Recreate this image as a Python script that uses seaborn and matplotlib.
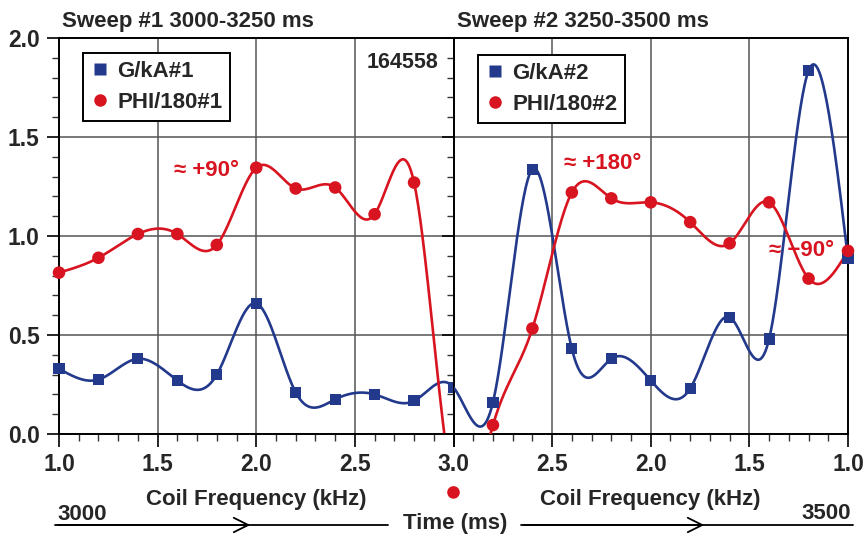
import numpy as np
import matplotlib
matplotlib.use("Agg")
import matplotlib.pyplot as plt
from matplotlib.lines import Line2D
from matplotlib.patches import FancyArrowPatch
from matplotlib.ticker import MultipleLocator, FixedLocator
import seaborn as sns

# ---- measured data, shot 164558 ----
freq_sweep1 = [1.0, 1.2, 1.4, 1.6, 1.8, 2.0, 2.2, 2.4, 2.6, 2.8, 3.0]
g_sweep1 = [0.33, 0.275, 0.38, 0.27, 0.30, 0.66, 0.21, 0.175, 0.20, 0.167, 0.235]
phi_sweep1 = [0.815, 0.89, 1.01, 1.01, 0.955, 1.345, 1.24, 1.245, 1.11, 1.27, -0.295]

freq_sweep2 = [3.0, 2.8, 2.6, 2.4, 2.2, 2.0, 1.8, 1.6, 1.4, 1.2, 1.0]
g_sweep2 = [0.235, 0.16, 1.337, 0.43, 0.38, 0.27, 0.23, 0.59, 0.48, 1.835, 0.885]
phi_sweep2 = [-0.295, 0.045, 0.533, 1.22, 1.19, 1.17, 1.07, 0.963, 1.17, 0.785, 0.925]

xticks1 = [1.0, 1.5, 2.0, 2.5, 3.0]
xticks2 = [2.5, 2.0, 1.5, 1.0]
yticks = [0.0, 0.5, 1.0, 1.5, 2.0]

BLUE = "#22398C"
RED = "#D7141F"
GRID = "#555555"

sns.set_style("ticks")
plt.rcParams["font.family"] = ["Liberation Sans", "DejaVu Sans"]
plt.rcParams["font.weight"] = "bold"


def natural_spline(x, y, num=1200):
    x = np.asarray(x, float)
    y = np.asarray(y, float)
    n = len(x)
    h = np.diff(x)
    A = np.zeros((n, n))
    r = np.zeros(n)
    A[0, 0] = A[-1, -1] = 1.0
    for i in range(1, n - 1):
        A[i, i - 1] = h[i - 1]
        A[i, i] = 2 * (h[i - 1] + h[i])
        A[i, i + 1] = h[i]
        r[i] = 6 * ((y[i + 1] - y[i]) / h[i] - (y[i] - y[i - 1]) / h[i - 1])
    M = np.linalg.solve(A, r)
    xs = np.linspace(x[0], x[-1], num)
    idx = np.clip(np.searchsorted(x, xs) - 1, 0, n - 2)
    x0, x1 = x[idx], x[idx + 1]
    hh = x1 - x0
    t0, t1 = xs - x0, x1 - xs
    ys = ((M[idx] * t1 ** 3 + M[idx + 1] * t0 ** 3) / (6 * hh)
          + (y[idx] / hh - M[idx] * hh / 6) * t1
          + (y[idx + 1] / hh - M[idx + 1] * hh / 6) * t0)
    return xs, ys


# both sweeps joined on one running coordinate (sweep 2 runs back down in frequency)
u_all = np.concatenate([np.array(freq_sweep1), 6.0 - np.array(freq_sweep2)[1:]])
g_all = np.concatenate([g_sweep1, g_sweep2[1:]])
phi_all = np.concatenate([phi_sweep1, phi_sweep2[1:]])

fig = plt.figure(figsize=(8.64, 5.37), dpi=100)
L, R, B, T = 59 / 864, 848 / 864, 1 - 434 / 537, 1 - 38 / 537
W = (R - L) / 2
ax1 = fig.add_axes([L, B, W, T - B])
ax2 = fig.add_axes([L + W, B, W, T - B])

for ax in (ax1, ax2):
    ax.set_ylim(0, 2.0)
    ax.yaxis.set_major_locator(FixedLocator(yticks))
    ax.yaxis.set_minor_locator(MultipleLocator(0.1))
    ax.xaxis.set_minor_locator(MultipleLocator(0.1))
    ax.grid(True, which="major", color=GRID, lw=1.1)
    for s in ax.spines.values():
        s.set_visible(True)
        s.set_linewidth(1.4)
        s.set_color("black")
    ax.tick_params(which="major", direction="out", length=9, width=1.2, pad=5,
                   labelsize=16.5, color="black")
    ax.tick_params(which="minor", direction="out", length=5, width=1.0, color="#333333")
    ax.set_axisbelow(True)

ax1.set_xlim(1.0, 3.0)
ax1.xaxis.set_major_locator(FixedLocator(xticks1))
ax2.set_xlim(3.0, 1.0)
ax2.xaxis.set_major_locator(FixedLocator([3.0] + xticks2))
ax2.set_xticklabels([""] + [f"{v:.1f}" for v in xticks2])
ax1.set_xticklabels([f"{v:.1f}" for v in xticks1])
ax1.set_yticklabels([f"{v:.1f}" for v in yticks])
ax2.tick_params(axis="y", labelleft=False)
for ax in (ax1, ax2):
    for lab in ax.get_xticklabels() + ax.get_yticklabels():
        lab.set_fontweight("bold")

# smooth curves through the points
for vals, col in ((g_all, BLUE), (phi_all, RED)):
    us, vs = natural_spline(u_all, vals)
    left = us <= 3.0
    right = us >= 3.0
    sns.lineplot(x=us[left], y=vs[left], ax=ax1, color=col, lw=1.9,
                 sort=False, estimator=None, zorder=3)
    sns.lineplot(x=6.0 - us[right], y=vs[right], ax=ax2, color=col, lw=1.9,
                 sort=False, estimator=None, zorder=3)

# markers
sns.scatterplot(x=freq_sweep1, y=g_sweep1, ax=ax1, marker="s", s=64, color=BLUE,
                edgecolor="none", zorder=4, clip_on=False)
sns.scatterplot(x=freq_sweep1, y=phi_sweep1, ax=ax1, marker="o", s=82, color=RED,
                edgecolor="none", zorder=5, clip_on=False)
sns.scatterplot(x=freq_sweep2[1:], y=g_sweep2[1:], ax=ax2, marker="s", s=64, color=BLUE,
                edgecolor="none", zorder=4, clip_on=False)
sns.scatterplot(x=freq_sweep2[1:], y=phi_sweep2[1:], ax=ax2, marker="o", s=82, color=RED,
                edgecolor="none", zorder=5, clip_on=False)


# legends
def legend_for(ax, n, anchor):
    handles = [Line2D([], [], ls="none", marker="s", ms=8, color=BLUE, mec="none"),
               Line2D([], [], ls="none", marker="o", ms=9, color=RED, mec="none")]
    leg = ax.legend(handles, [f"G/kA#{n}", f"PHI/180#{n}"], loc="upper left",
                    bbox_to_anchor=anchor, borderaxespad=0, fancybox=False,
                    framealpha=1, edgecolor="black", handlelength=0.8,
                    handletextpad=0.4, labelspacing=0.45, borderpad=0.35,
                    prop=dict(family=["Liberation Sans", "DejaVu Sans"],
                              weight="bold", size=16))
    leg.get_frame().set_linewidth(1.4)
    leg.set_zorder(6)


legend_for(ax1, 1, (0.061, 0.962))
legend_for(ax2, 2, (0.062, 0.957))

# titles and labels
ax1.set_title("Sweep #1 3000-3250 ms", loc="left", fontsize=16, fontweight="bold",
              pad=8, x=0.008)
ax2.set_title("Sweep #2 3250-3500 ms", loc="left", fontsize=16, fontweight="bold",
              pad=8, x=0.008)
for ax in (ax1, ax2):
    ax.set_xlabel("Coil Frequency (kHz)", fontsize=16, fontweight="bold", labelpad=9)
    ax.set_ylabel("")

ax1.text(2.74, 1.878, "164558", ha="center", va="center", fontsize=15.5,
         fontweight="bold", zorder=1)
ax1.text(1.75, 1.332, "\u2248 +90\u00b0", ha="center", va="center", color=RED,
         fontsize=16, fontweight="bold", zorder=1)
ax2.text(2.245, 1.367, "\u2248 +180\u00b0", ha="center", va="center", color=RED,
         fontsize=16, fontweight="bold", zorder=1)
ax2.text(1.234, 0.927, "\u2248 \u221290\u00b0", ha="center", va="center", color=RED,
         fontsize=16, fontweight="bold", zorder=1)

# time axis along the bottom
ya = 1 - 525 / 537
for x0, xm, x1 in ((55, 253, 388), (521, 707, 853)):
    fig.add_artist(Line2D([x0 / 864, x1 / 864], [ya, ya], color="black", lw=1.3))
    fig.patches.append(FancyArrowPatch(
        (x0 / 864, ya), (xm / 864, ya), transform=fig.transFigure,
        arrowstyle="->", mutation_scale=26, lw=1.3, color="black"))
fig.text(57 / 864, 1 - 520 / 537, "3000", ha="left", va="baseline", fontsize=16,
         fontweight="bold")
fig.text(851 / 864, 1 - 519 / 537, "3500", ha="right", va="baseline", fontsize=16,
         fontweight="bold")
fig.text(455 / 864, 1 - 524 / 537, "Time (ms)", ha="center", va="center", fontsize=16,
         fontweight="bold")

fig.savefig("out.png", dpi=100)
